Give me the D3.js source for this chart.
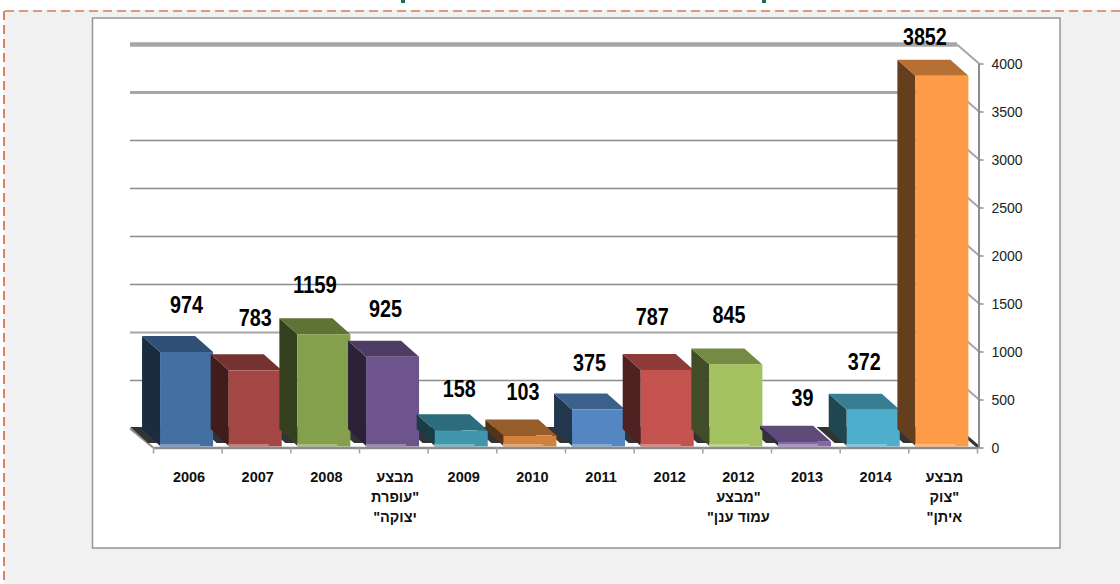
<!DOCTYPE html>
<html>
<head>
<meta charset="utf-8">
<script src="https://d3js.org/d3.v7.min.js"></script>
<style>
    html, body { margin: 0; padding: 0; background: #fff; }
    svg { display: block; }
    text { font-family: "Liberation Sans", Arial, sans-serif; }
</style>
</head>
<body>
<div id="chart"></div>
<script>
// chart values
const categories = ['2006', '2007', '2008', 'מבצע\n"עופרת\nיצוקה"', '2009', '2010', '2011', '2012',
    '2012\n"מבצע\nעמוד ענן"', '2013', '2014', 'מבצע\n"צוק\nאיתן"'];
const values = [974, 783, 1159, 925, 158, 103, 375, 787, 845, 39, 372, 3852];
const yTicks = [0, 500, 1000, 1500, 2000, 2500, 3000, 3500, 4000];

// front face colours, one per bar
const barColors = ['#436fa2', '#a34644', '#84a04c', '#6e548c', '#3f96ad', '#d2813c',
    '#5486c2', '#c4524f', '#a3c15e', '#8468a8', '#4eaecb', '#fd9b48'];

// the value labels were placed by hand in the original, so nudge each one [dx, dy]
const labelNudges = [[0, -31], [0, -36], [-9, -33], [-7, -32], [-2, -25], [-7, -28],
    [-9, -31], [-15, -37], [-7, -33], [-2, -28], [-9, -32], [-17, -23]];

const width = 1120, height = 584;
const depthX = 18, depthY = 16;     // how far the bars go back
const wallX = 22, wallY = 19;       // how far the back wall sits behind the axes
const lift = 2;                     // bar fronts sit a little above the axis line

const svg = d3.select("#chart").append("svg")
    .attr("width", width)
    .attr("height", height);

// page background, dashed frame and white chart panel
svg.append("rect").attr("x", 4).attr("y", 10).attr("width", width).attr("height", height).attr("fill", "#f1f1f1");
svg.append("line").attr("x1", 5).attr("x2", width).attr("y1", 11).attr("y2", 11)
    .attr("stroke", "#d99b7c").attr("stroke-width", 2).attr("stroke-dasharray", "9 5");
svg.append("line").attr("x1", 4).attr("x2", 4).attr("y1", 11).attr("y2", height)
    .attr("stroke", "#d9845f").attr("stroke-width", 2).attr("stroke-dasharray", "9 5");
svg.append("rect").attr("x", 92.5).attr("y", 18).attr("width", 967.5).attr("height", 530)
    .attr("fill", "#fff").attr("stroke", "#959595").attr("stroke-width", 1.5);

// bits of the cropped title still show on the top edge
[401, 762].forEach(x => {
    svg.append("rect").attr("x", x).attr("y", 0).attr("width", 4).attr("height", 3).attr("fill", "#1f6b5a");
});

// scales
const x = d3.scaleBand()
    .domain(categories)
    .range([153, 977])
    .paddingInner(0.228)
    .paddingOuter(0.114)
    .align(0.45);
const y = d3.scaleLinear().domain([0, 4000]).range([447.5, 63.5]);
const xEdges = d3.scaleLinear().domain([0, categories.length]).range([153, 977]);

const bars = categories.map((c, i) => ({ category: c, value: values[i], color: barColors[i], nudge: labelNudges[i] }));

const shade = (color, k) => {
    const c = d3.rgb(color);
    return d3.rgb(c.r * k, c.g * k, c.b * k).formatHex();
};
const poly = pts => pts.map(p => p.join(",")).join(" ");

// grid on the back wall, with the short diagonal back to the axis
const gridWidth = d => d === 4000 ? 4.5 : d === 3500 ? 3 : d === 1000 ? 2 : 1.5;
const grid = svg.append("g").attr("fill", "none");
grid.selectAll(".grid")
    .data(yTicks.filter(d => d > 0))
    .enter()
    .append("polyline")
    .attr("class", "grid")
    .attr("points", d => poly([[130, y(d) - wallY], [979 - wallX, y(d) - wallY]]))
    .attr("stroke", d => d >= 3500 || d === 1000 ? "#a6a6a6" : "#8c8c8c")
    .attr("stroke-width", gridWidth);
grid.selectAll(".grid-diag")
    .data(yTicks)
    .enter()
    .append("line")
    .attr("class", "grid-diag")
    .attr("x1", 979 - wallX).attr("y1", d => y(d) - wallY)
    .attr("x2", 979).attr("y2", d => y(d))
    .attr("stroke", d => d === 0 ? "#333" : "#a6a6a6")
    .attr("stroke-width", d => d === 0 ? 3 : 2);

// left edge of the floor
svg.append("line")
    .attr("x1", 130).attr("y1", y(0) - wallY)
    .attr("x2", 153).attr("y2", y(0))
    .attr("stroke", "#8c8c8c").attr("stroke-width", 2);

// shadows on the floor, all of them under every bar
svg.append("g").selectAll("polygon")
    .data(bars)
    .enter()
    .append("polygon")
    .attr("fill", "#333")
    .attr("points", d => {
        const x0 = x(d.category) - 12, x1 = x0 + x.bandwidth();
        return poly([[x0 - depthX, 427], [x1 - depthX, 427], [x1, 443], [x0, 443]]);
    });

// bars: side, top, front, then the lighter strip along the bottom
const bar = svg.append("g").selectAll("g")
    .data(bars)
    .enter()
    .append("g");

bar.append("polygon")
    .attr("fill", d => shade(d.color, 0.4))
    .attr("points", d => {
        const x0 = x(d.category), top = y(d.value) - lift;
        return poly([[x0, top], [x0 - depthX, top - depthY], [x0 - depthX, 429], [x0, y(0) - 1.5]]);
    });

bar.append("polygon")
    .attr("fill", d => shade(d.color, 0.72))
    .attr("points", d => {
        const x0 = x(d.category), x1 = x0 + x.bandwidth(), top = y(d.value) - lift;
        return poly([[x0, top], [x0 - depthX, top - depthY], [x1 - depthX, top - depthY], [x1, top]]);
    });

bar.append("rect")
    .attr("fill", d => d.color)
    .attr("x", d => x(d.category))
    .attr("y", d => y(d.value) - lift)
    .attr("width", x.bandwidth())
    .attr("height", d => y(0) - y(d.value) + lift - 1);

bar.append("rect")
    .attr("fill", d => d3.interpolateRgb(d.color, "#fff")(0.3))
    .attr("x", d => x(d.category))
    .attr("y", y(0) - 3.5)
    .attr("width", 40)
    .attr("height", 2.5);

// axes
const xAxis = d3.axisBottom(xEdges)
    .tickValues(d3.range(categories.length + 1))
    .tickFormat("")
    .tickSizeInner(6)
    .tickSizeOuter(0);
const yAxis = d3.axisRight(y)
    .tickValues(yTicks)
    .tickFormat(d3.format("d"))
    .tickSizeInner(5)
    .tickSizeOuter(0)
    .tickPadding(8);

const xAxisG = svg.append("g").attr("transform", `translate(0,${y(0)})`).call(xAxis);
xAxisG.select(".domain").attr("stroke", "#8c8c8c").attr("stroke-width", 2.5);
xAxisG.selectAll(".tick line").attr("stroke", "#a0a0a0").attr("stroke-width", 1.5);

const yAxisG = svg.append("g").attr("transform", "translate(978.5,0)").call(yAxis);
yAxisG.select(".domain").attr("stroke", "#8c8c8c").attr("stroke-width", 2);
yAxisG.selectAll(".tick line").attr("stroke", "#8c8c8c").attr("stroke-width", 1.5);
yAxisG.selectAll("text")
    .style("font-family", '"Liberation Sans", Arial, sans-serif')
    .style("font-size", "14px")
    .attr("y", 0.5)
    .attr("fill", "#222");

// category labels, split over lines
const catLabels = svg.append("g").selectAll("text")
    .data(categories)
    .enter()
    .append("text")
    .attr("y", 482)
    .attr("direction", "rtl")
    .attr("text-anchor", "middle")
    .style("font-size", "14.5px")
    .style("font-weight", "bold")
    .attr("fill", "#111");

catLabels.selectAll("tspan")
    .data(c => c.split("\n").map(line => ({ line, c })))
    .enter()
    .append("tspan")
    .attr("x", d => x(d.c) + x.bandwidth() / 2 + 2.5)
    .attr("dy", (d, i) => i === 0 ? 0 : 20)
    .text(d => d.line);

// value labels, squeezed since the original font is a narrow one
svg.append("g").selectAll("text")
    .data(bars)
    .enter()
    .append("text")
    .attr("x", d => x(d.category) + x.bandwidth() / 2 + d.nudge[0])
    .attr("y", d => y(d.value) - lift - depthY + d.nudge[1] + 8)
    .attr("text-anchor", "middle")
    .attr("textLength", d => String(d.value).length * 11)
    .attr("lengthAdjust", "spacingAndGlyphs")
    .style("font-size", "23px")
    .style("font-weight", "bold")
    .attr("fill", "#000")
    .text(d => d.value);
</script>
</body>
</html>
